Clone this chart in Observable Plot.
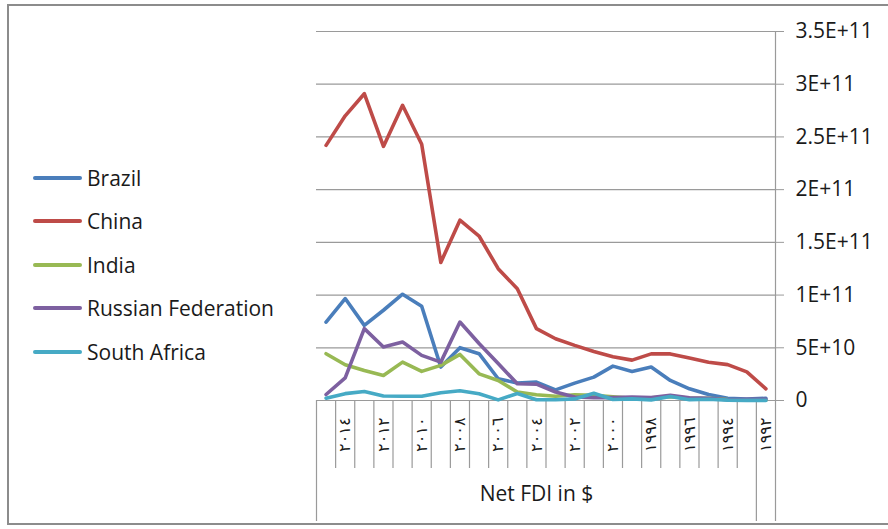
<!DOCTYPE html>
<html>
<head>
<meta charset="utf-8">
<script src="https://cdn.jsdelivr.net/npm/d3@7"></script>
<script src="https://cdn.jsdelivr.net/npm/@observablehq/plot@0.6"></script>
<style>
  body { margin: 0; background: #fff; }
  #wrap { position: relative; width: 888px; height: 529px; overflow: hidden; font-family: "Open Sans", Lato, sans-serif; }
  #frame { position: absolute; left: 7px; top: 4px; width: 900px; height: 521px; border: 2px solid #8c8c8c; box-sizing: border-box; }
  #chart { position: absolute; left: 0; top: 0; }
  #legend { position: absolute; left: 33px; top: 156px; }
  .item { display: flex; align-items: center; height: 43.5px; font-size: 21px; color: #1a1a1a; }
  .sw { display: inline-block; width: 49px; height: 4px; border-radius: 2px; margin-right: 5px; }
</style>
</head>
<body>
<div id="wrap">
  <div id="frame"></div>
  <div id="chart"></div>
  <div id="legend"></div>
</div>
<script>
// Years (category order as drawn, left to right)
const years = [2015, 2014, 2013, 2012, 2011, 2010, 2009, 2008, 2007, 2006, 2005, 2004,
               2003, 2002, 2001, 2000, 1999, 1998, 1997, 1996, 1995, 1994, 1993, 1992];
// Labelled categories
const labelYears = [2014, 2012, 2010, 2008, 2006, 2004, 2002, 2000, 1998, 1996, 1994, 1992];
// Net FDI inflows, billions of US$
const brazil = [74.4, 96.7, 71.3, 85.6, 100.8, 89.4, 31.7, 50.1, 44.4, 20.6, 16.5, 17.4,
                10.1, 16.5, 22.2, 32.6, 27.6, 31.7, 19.0, 11.1, 5.7, 2.1, 1.3, 2.1];
const china = [242, 270, 291, 241, 280, 243, 131, 171, 156, 125, 106, 68.2,
               58.6, 52.3, 46.5, 41.5, 38.3, 44.2, 44.2, 40.4, 36.2, 34.0, 27.2, 11.0];
const india = [44.4, 33.9, 28.5, 23.8, 36.4, 27.6, 33.3, 43.7, 25.3, 19.0, 8.0, 5.5,
               4.0, 5.5, 5.0, 3.6, 2.2, 2.6, 3.6, 2.4, 2.1, 1.0, 0.6, 0.3];
const russia = [5.7, 21.5, 68.2, 50.7, 55.4, 42.8, 36.4, 74.4, 54.0, 35.0, 15.9, 15.5,
                8.0, 3.3, 2.7, 2.7, 3.3, 2.8, 4.9, 2.6, 2.1, 0.7, 1.2, 1.2];
const southAfrica = [2.2, 6.5, 8.6, 4.3, 4.1, 4.1, 7.3, 9.3, 6.4, 0.6, 6.7, 0.7,
                     0.7, 1.5, 6.8, 0.9, 1.5, 0.6, 3.8, 0.8, 1.2, 0.4, 0.1, 0.1];
const countries = ["Brazil", "China", "India", "Russian Federation", "South Africa"];
const colors = ["#4a7ebb", "#be4b48", "#98b954", "#7d60a0", "#46aac5"];
const yTicks = [0, 5e10, 1e11, 1.5e11, 2e11, 2.5e11, 3e11, 3.5e11];
const groupLabel = "Net FDI in $";

const seriesValues = [brazil, china, india, russia, southAfrica];
const data = countries.flatMap((c, k) =>
  years.map((yr, i) => ({country: c, year: yr, value: seriesValues[k][i] * 1e9})));

const first = years[0], last = years[years.length - 1];
const bounds = d3.range(years.length + 1).map(i => first + 0.5 - i);
const innerBounds = bounds.filter((b, i) => i > 0 && i < bounds.length - 2);
const outerBounds = [bounds[0], bounds[bounds.length - 2], bounds[bounds.length - 1]];

const arabic = y => String(y).replace(/\d/g, d => "٠١٢٣٤٥٦٧٨٩"[d]);
const fmt = d => d === 0 ? "0" : d3.format("~e")(d).toUpperCase();
const gray = "#9a9a9a";

const chart = Plot.plot({
  width: 888,
  height: 529,
  marginLeft: 316,
  marginRight: 113,
  marginTop: 31,
  marginBottom: 129,
  style: {fontFamily: "'Open Sans', Lato, sans-serif", color: "#1a1a1a", background: "transparent"},
  x: {type: "linear", domain: [first + 0.5, last - 0.5], axis: null},
  y: {domain: [0, 3.5e11], axis: null},
  color: {domain: countries, range: colors},
  marks: [
    Plot.ruleY(yTicks, {stroke: gray, strokeWidth: 1.2}),
    Plot.axisY({anchor: "right", ticks: yTicks, tickSize: 8, tickPadding: 12, tickFormat: fmt,
                label: null, stroke: gray, fontSize: 21, fill: "#1a1a1a"}),
    Plot.ruleX([last - 0.5], {stroke: gray, strokeWidth: 1.2}),
    Plot.ruleX(innerBounds, {stroke: gray, strokeWidth: 1.2, insetTop: 369, insetBottom: -68}),
    Plot.ruleX(outerBounds, {stroke: gray, strokeWidth: 1.2, insetTop: 369, insetBottom: -121}),
    Plot.line(data, {x: "year", y: "value", z: "country", stroke: "country",
                     strokeWidth: 3.6, strokeLinejoin: "round", strokeLinecap: "round"}),
    Plot.text(labelYears, {x: d => d, text: arabic, frameAnchor: "bottom", dy: 17, rotate: -90,
                           textAnchor: "end", lineAnchor: "middle", fontFamily: "DejaVu Sans",
                           fontSize: 16, fill: "#1a1a1a", style: "letter-spacing: 1.5px"}),
    Plot.text([groupLabel], {x: () => (bounds[0] + bounds[bounds.length - 2]) / 2, text: d => d,
                             frameAnchor: "bottom", dy: 100, fontSize: 21, fill: "#1a1a1a"})
  ]
});
document.getElementById("chart").appendChild(chart);

const legend = document.getElementById("legend");
countries.forEach((c, i) => {
  const item = document.createElement("div");
  item.className = "item";
  const sw = document.createElement("span");
  sw.className = "sw";
  sw.style.background = colors[i];
  item.appendChild(sw);
  item.appendChild(document.createTextNode(c));
  legend.appendChild(item);
});
</script>
</body>
</html>
